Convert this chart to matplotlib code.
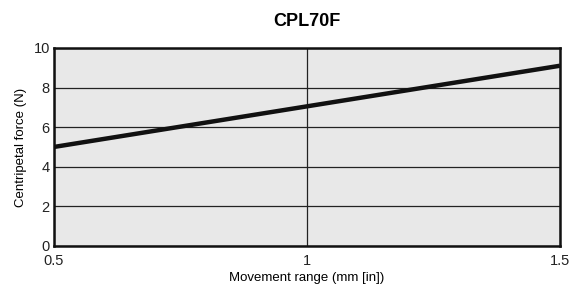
import matplotlib
matplotlib.use("Agg")
import matplotlib.pyplot as plt

plt.rcParams['font.family'] = ['Liberation Sans', 'DejaVu Sans']

# data
movement = [0.5, 1.0, 1.5]
force = [5.0, 7.05, 9.1]
x_ticks = [0.5, 1, 1.5]
x_tick_labels = ['0.5', '1', '1.5']
y_ticks = [0, 2, 4, 6, 8, 10]

fig = plt.figure(figsize=(5.71, 2.87), dpi=100)
ax = fig.add_axes([0.0946, 0.143, 0.886, 0.690])
ax.set_facecolor('#e8e8e8')

ax.plot(movement, force, color='#111111', linewidth=3.2, solid_capstyle='butt', zorder=3)

ax.set_xlim(0.5, 1.5)
ax.set_ylim(0, 10)
ax.set_xticks(x_ticks)
ax.set_xticklabels(x_tick_labels)
ax.set_yticks(y_ticks)
ax.tick_params(length=0, labelsize=10.5, colors='#222222')
ax.tick_params(axis='x', pad=6)
ax.tick_params(axis='y', pad=3)

ax.grid(True, color='#222222', linewidth=0.9, zorder=1)
for s in ax.spines.values():
    s.set_linewidth(1.8)
    s.set_color('#111111')

ax.set_title('CPL70F', fontsize=13, fontweight='bold', pad=16)
ax.set_xlabel('Movement range (mm [in])', fontsize=9.5, labelpad=3)
ax.set_ylabel('Centripetal force (N)', fontsize=9.5, labelpad=5)

fig.savefig('out.png', dpi=100)
plt.close(fig)
